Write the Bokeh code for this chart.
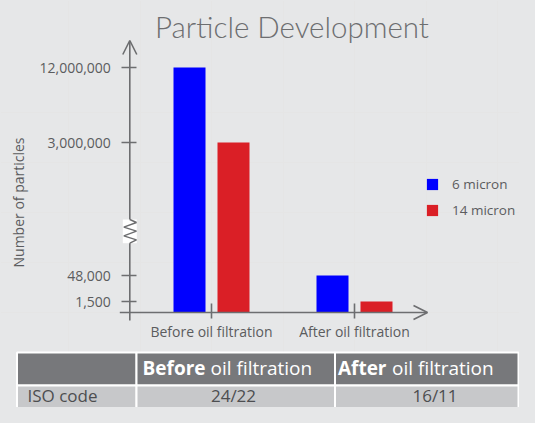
import numpy as np
from bokeh.plotting import figure
from bokeh.models import (ColumnDataSource, Range1d, LinearAxis, FixedTicker, Arrow,
                          OpenHead, Legend, LegendItem, GlobalInlineStyleSheet)
from bokeh.transform import dodge
from bokeh.core.properties import value
from bokeh.embed import file_html
from bokeh.resources import INLINE

# ---------------- data ----------------
categories = ["Before oil filtration", "After oil filtration"]
series_names = ["6 micron", "14 micron"]
particles_6um = [12_000_000, 48_000]
particles_14um = [3_000_000, 1_500]
y_tick_values = [1_500, 48_000, 3_000_000, 12_000_000]
y_tick_labels = ["1,500", "48,000", "3,000,000", "12,000,000"]
table_stage_bold = ["Before", "After"]
table_stage_rest = ["oil filtration", "oil filtration"]
table_row_label = "ISO code"
iso_codes = ["24/22", "16/11"]
title_text = "Particle Development"
y_axis_title = "Number of particles"

# ---------------- layout / style ----------------
W, H = 519, 407
BG = "#e6e7e8"
AXIS_C = "#6d6e70"
TEXT_C = "#5b5c5e"
TITLE_C = "#6d6e70"
BLUE = "#0000ff"
RED = "#da1f26"
FONT = "Open Sans"
TITLE_FONT = "Lato Light, Roboto Light, Open Sans"
BL = 0.41             # svg text baseline correction (fraction of font size)

PX = 143.0            # pixels per category step
GX0 = 211.0           # x (px) of first category
BASE = 312.0          # y (px from top) of the x axis
# broken (schematic) y axis: height in px above the x axis for each tick value
Y_TICK_HEIGHTS = [11, 37, 170, 245]
BAR_W = 32.0
BAR_OFF = 22.0
YAXIS_X = (129.3 - GX0) / PX

p = figure(width=W, height=H, output_backend="svg", toolbar_location=None, title=None,
           x_range=Range1d(-GX0 / PX, (W - GX0) / PX),
           y_range=Range1d(BASE - H, BASE),
           x_axis_location=None, y_axis_location=None, min_border=0,
           background_fill_color=BG, border_fill_color=BG, outline_line_color=None)
p.extra_x_ranges = {"tx": Range1d(0, W)}
p.extra_y_ranges = {"ty": Range1d(H, 0)}
p.stylesheets = [GlobalInlineStyleSheet(css="body { background-color: %s; }" % BG)]

x_idx = list(range(len(categories)))
src = ColumnDataSource(dict(
    x=x_idx,
    top6=np.interp(particles_6um, y_tick_values, Y_TICK_HEIGHTS),
    top14=np.interp(particles_14um, y_tick_values, Y_TICK_HEIGHTS),
))
r6 = p.vbar(x=dodge("x", -BAR_OFF / PX, range=p.x_range), top="top6", bottom=0,
            width=BAR_W / PX, source=src, fill_color=BLUE, line_color=None)
r14 = p.vbar(x=dodge("x", BAR_OFF / PX, range=p.x_range), top="top14", bottom=0,
             width=BAR_W / PX, source=src, fill_color=RED, line_color=None)

# axes lines with arrows
p.add_layout(Arrow(end=OpenHead(size=14, line_color=AXIS_C, line_width=1.6),
                   x_start=(119.3 - GX0) / PX, y_start=0, x_end=(427 - GX0) / PX, y_end=0,
                   line_color=AXIS_C, line_width=1.6))
p.add_layout(Arrow(end=OpenHead(size=14, line_color=AXIS_C, line_width=1.6),
                   x_start=YAXIS_X, y_start=-8, x_end=YAXIS_X, y_end=272,
                   line_color=AXIS_C, line_width=1.6))

# y axis (ticks + labels)
yaxis = LinearAxis(fixed_location=YAXIS_X,
                   ticker=FixedTicker(ticks=Y_TICK_HEIGHTS),
                   major_label_overrides={h: lab for h, lab in zip(Y_TICK_HEIGHTS, y_tick_labels)},
                   bounds=(-24.5, 245),
                   axis_label=y_axis_title,
                   axis_line_color=None,
                   major_tick_in=7, major_tick_out=8,
                   major_tick_line_color=AXIS_C, major_tick_line_width=1.6,
                   minor_tick_line_color=None,
                   major_label_standoff=11,
                   major_label_text_font=FONT, major_label_text_font_size="14px",
                   major_label_text_color=TEXT_C,
                   axis_label_text_font=FONT, axis_label_text_font_size="14px",
                   axis_label_text_font_style="normal", axis_label_text_color=TEXT_C,
                   axis_label_standoff=8)
p.add_layout(yaxis, "left")

xaxis = LinearAxis(fixed_location=0,
                   ticker=FixedTicker(ticks=x_idx),
                   major_label_overrides={i: c for i, c in zip(x_idx, categories)},
                   axis_line_color=None,
                   major_tick_in=9, major_tick_out=6,
                   major_tick_line_color=AXIS_C, major_tick_line_width=1.6,
                   minor_tick_line_color=None,
                   major_label_standoff=3,
                   major_label_text_font=FONT, major_label_text_font_size="14px",
                   major_label_text_color=TEXT_C)
p.add_layout(xaxis, "below")

# axis break symbol
bw = 7.0 / PX
p.quad(left=[YAXIS_X - bw], right=[YAXIS_X + bw], bottom=[69.3], top=[93.0],
       fill_color="white", line_color=None, level="overlay")
zz_dx = [0, 6.7, -6, 6.7, -6, 6.7, 0]
zz_y = [93.0, 90.0, 85.3, 81.3, 76.7, 72.7, 69.3]
p.line(x=[YAXIS_X + d / PX for d in zz_dx], y=zz_y, line_color=AXIS_C, line_width=1.4,
       level="overlay")

# legend
legend = Legend(items=[LegendItem(label=series_names[0], renderers=[r6]),
                       LegendItem(label=series_names[1], renderers=[r14])],
                location=(425, 188.5), orientation="vertical",
                glyph_width=14, glyph_height=14, label_height=14, label_standoff=13,
                spacing=8, padding=0, margin=0,
                background_fill_alpha=0, border_line_color=None,
                label_text_font=FONT, label_text_font_size="13.5px", label_text_color=TEXT_C)
p.add_layout(legend)

# title
TS = 29.5
p.text(x=[291.5], y=[38 - BL * TS], text=[title_text], x_range_name="tx", y_range_name="ty",
       text_align="center", text_baseline="alphabetic",
       text_font=value(TITLE_FONT), text_font_size="%gpx" % TS, text_color=TITLE_C)

# table
TL, C1, C2, TR = 16.5, 136, 334.5, 518
HT, HB, DB = 352, 385, 420
p.quad(left=[TL, C1, C2], right=[C1, C2, TR], top=[HT] * 3, bottom=[HB] * 3,
       x_range_name="tx", y_range_name="ty",
       fill_color="#77787b", line_color="white", line_width=2)
p.quad(left=[TL, C1, C2], right=[C1, C2, TR], top=[HB] * 3, bottom=[DB] * 3,
       x_range_name="tx", y_range_name="ty",
       fill_color="#c7c8ca", line_color="white", line_width=2)

HS, DS = 19, 17
hy = 375.3 - BL * HS
dy = 401.5 - BL * DS
split_bold = [205, 386]
split_rest = [210, 391.5]
p.text(x=split_bold, y=[hy, hy], text=table_stage_bold, x_range_name="tx", y_range_name="ty",
       text_align="right", text_baseline="alphabetic", text_font=value(FONT),
       text_font_style="bold", text_font_size="%dpx" % HS, text_color="white")
p.text(x=split_rest, y=[hy, hy], text=table_stage_rest, x_range_name="tx", y_range_name="ty",
       text_align="left", text_baseline="alphabetic", text_font=value(FONT),
       text_font_size="%dpx" % HS, text_color="white")
p.text(x=[27], y=[dy], text=[table_row_label], x_range_name="tx", y_range_name="ty",
       text_align="left", text_baseline="alphabetic", text_font=value(FONT),
       text_font_size="%dpx" % DS, text_color="#4d4e50")
p.text(x=[233, 434.5], y=[dy, dy], text=iso_codes, x_range_name="tx", y_range_name="ty",
       text_align="center", text_baseline="alphabetic", text_font=value(FONT),
       text_font_size="%dpx" % DS, text_color="#4d4e50")

open("out.html", "w").write(file_html(p, INLINE))
